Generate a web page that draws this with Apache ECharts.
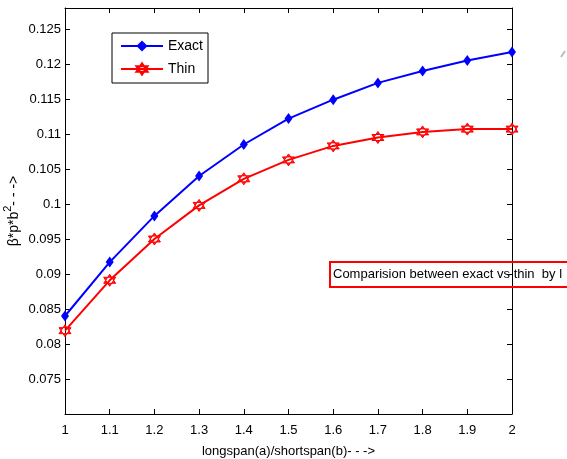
<!DOCTYPE html>
<html>
<head>
<meta charset="utf-8">
<script src="https://cdn.jsdelivr.net/npm/echarts@6/dist/echarts.min.js"></script>
<style>html,body{margin:0;padding:0;background:#fff}#c{width:567px;height:459px}</style>
</head>
<body>
<div id="c"></div>
<script>
var xValues = [1, 1.1, 1.2, 1.3, 1.4, 1.5, 1.6, 1.7, 1.8, 1.9, 2];
var exactValues = [0.0840, 0.0917, 0.0983, 0.1040, 0.1085, 0.1122, 0.1149, 0.1173, 0.1190, 0.1205, 0.1217];
var thinValues = [0.0819, 0.0891, 0.0950, 0.0998, 0.1036, 0.1063, 0.1083, 0.1095, 0.1103, 0.1107, 0.1107];
var seriesNames = ['Exact', 'Thin'];
var xAxisTitle = 'longspan(a)/shortspan(b)- - ->';
var yAxisTitle = '{n|\u03b2*p*b}{s|2}{n|- - ->}';
var noteText = 'Comparision between exact vs thin  by l';

var FONT = 'Liberation Sans';
var hexagram = 'path://M0,-10 L8.66,5 L-8.66,5 Z M0,10 L8.66,-5 L-8.66,-5 Z';
var diamondPlus = 'path://M0,-10 L5,0 L0,10 L-5,0 Z';

function pairs(ys){ return xValues.map(function(x,i){ return [x, ys[i]]; }); }

var chart = echarts.init(document.getElementById('c'), null, {renderer:'canvas'});
var axisLine = {show:true, lineStyle:{color:'#000', width:1}};
var tick = {show:true, inside:true, length:5, lineStyle:{color:'#000'}};
chart.setOption({
  animation:false,
  backgroundColor:'#fff',
  grid:{left:65, right:55, top:8, bottom:45, containLabel:false, outerBoundsMode:'none'},
  legend:{
    left:112, top:33, orient:'vertical',
    data:seriesNames,
    backgroundColor:'#fff', borderColor:'#000', borderWidth:1,
    padding:[6,5,7,8], itemWidth:42, itemHeight:14, itemGap:9,
    textStyle:{fontFamily:FONT, fontSize:14, color:'#000'}
  },
  xAxis:[{
    type:'value', min:1, max:2, interval:0.1, position:'bottom',
    axisLine:axisLine, axisTick:tick, splitLine:{show:false},
    axisLabel:{margin:10, fontFamily:FONT, fontSize:13, color:'#000',
      formatter:function(v){return String(+v.toFixed(1));}},
    name:xAxisTitle, nameLocation:'middle', nameGap:31,
    nameTextStyle:{fontFamily:FONT, fontSize:13, color:'#000'}
  },{
    type:'value', min:1, max:2, interval:0.1, position:'top',
    axisLine:axisLine, axisTick:tick, axisLabel:{show:false}, splitLine:{show:false}
  }],
  yAxis:[{
    type:'value', min:0.07, max:0.128, interval:0.005, position:'left',
    axisLine:axisLine, axisTick:tick, splitLine:{show:false},
    axisLabel:{margin:4, fontFamily:FONT, fontSize:13, color:'#000',
      formatter:function(v){ if(v<0.0705||v>0.1255) return ''; return String(+v.toFixed(3)); }},
    name:yAxisTitle, nameLocation:'middle', nameGap:44, nameRotate:90, nameMoveOverlap:false,
    nameTextStyle:{fontFamily:FONT, fontSize:14, color:'#000',
      rich:{n:{fontFamily:FONT, fontSize:14, color:'#000', verticalAlign:'bottom'},
            s:{fontFamily:FONT, fontSize:11, color:'#000', verticalAlign:'top', padding:[0,0,8,0]}}}
  },{
    type:'value', min:0.07, max:0.128, interval:0.005, position:'right',
    axisLine:axisLine, axisTick:tick, axisLabel:{show:false}, splitLine:{show:false}
  }],
  series:[{
    name:seriesNames[0], type:'line', data:pairs(exactValues),
    color:'#0000ff', lineStyle:{width:2, color:'#0000ff'},
    symbol:diamondPlus, symbolSize:[8,11], itemStyle:{color:'#0000ff'}
  },{
    name:seriesNames[1], type:'line', data:pairs(thinValues),
    color:'#ff0000', lineStyle:{width:2, color:'#ff0000'},
    symbol:hexagram, symbolSize:12, itemStyle:{color:'#ff2020', borderColor:'#ff0000', borderWidth:1}
  }],
  graphic:[{
    type:'rect', shape:{x:330, y:262, width:260, height:25},
    style:{fill:'none', stroke:'#ff0000', lineWidth:2}, z:1
  },{
    type:'text', x:333, y:274.5,
    style:{text:noteText, fontFamily:FONT, fontSize:13, fill:'#000', textVerticalAlign:'middle'}, z:2
  },{
    type:'line', shape:{x1:561, y1:57, x2:565, y2:51},
    style:{stroke:'#bbbbbb', lineWidth:2}
  }]
});
</script>
</body>
</html>
